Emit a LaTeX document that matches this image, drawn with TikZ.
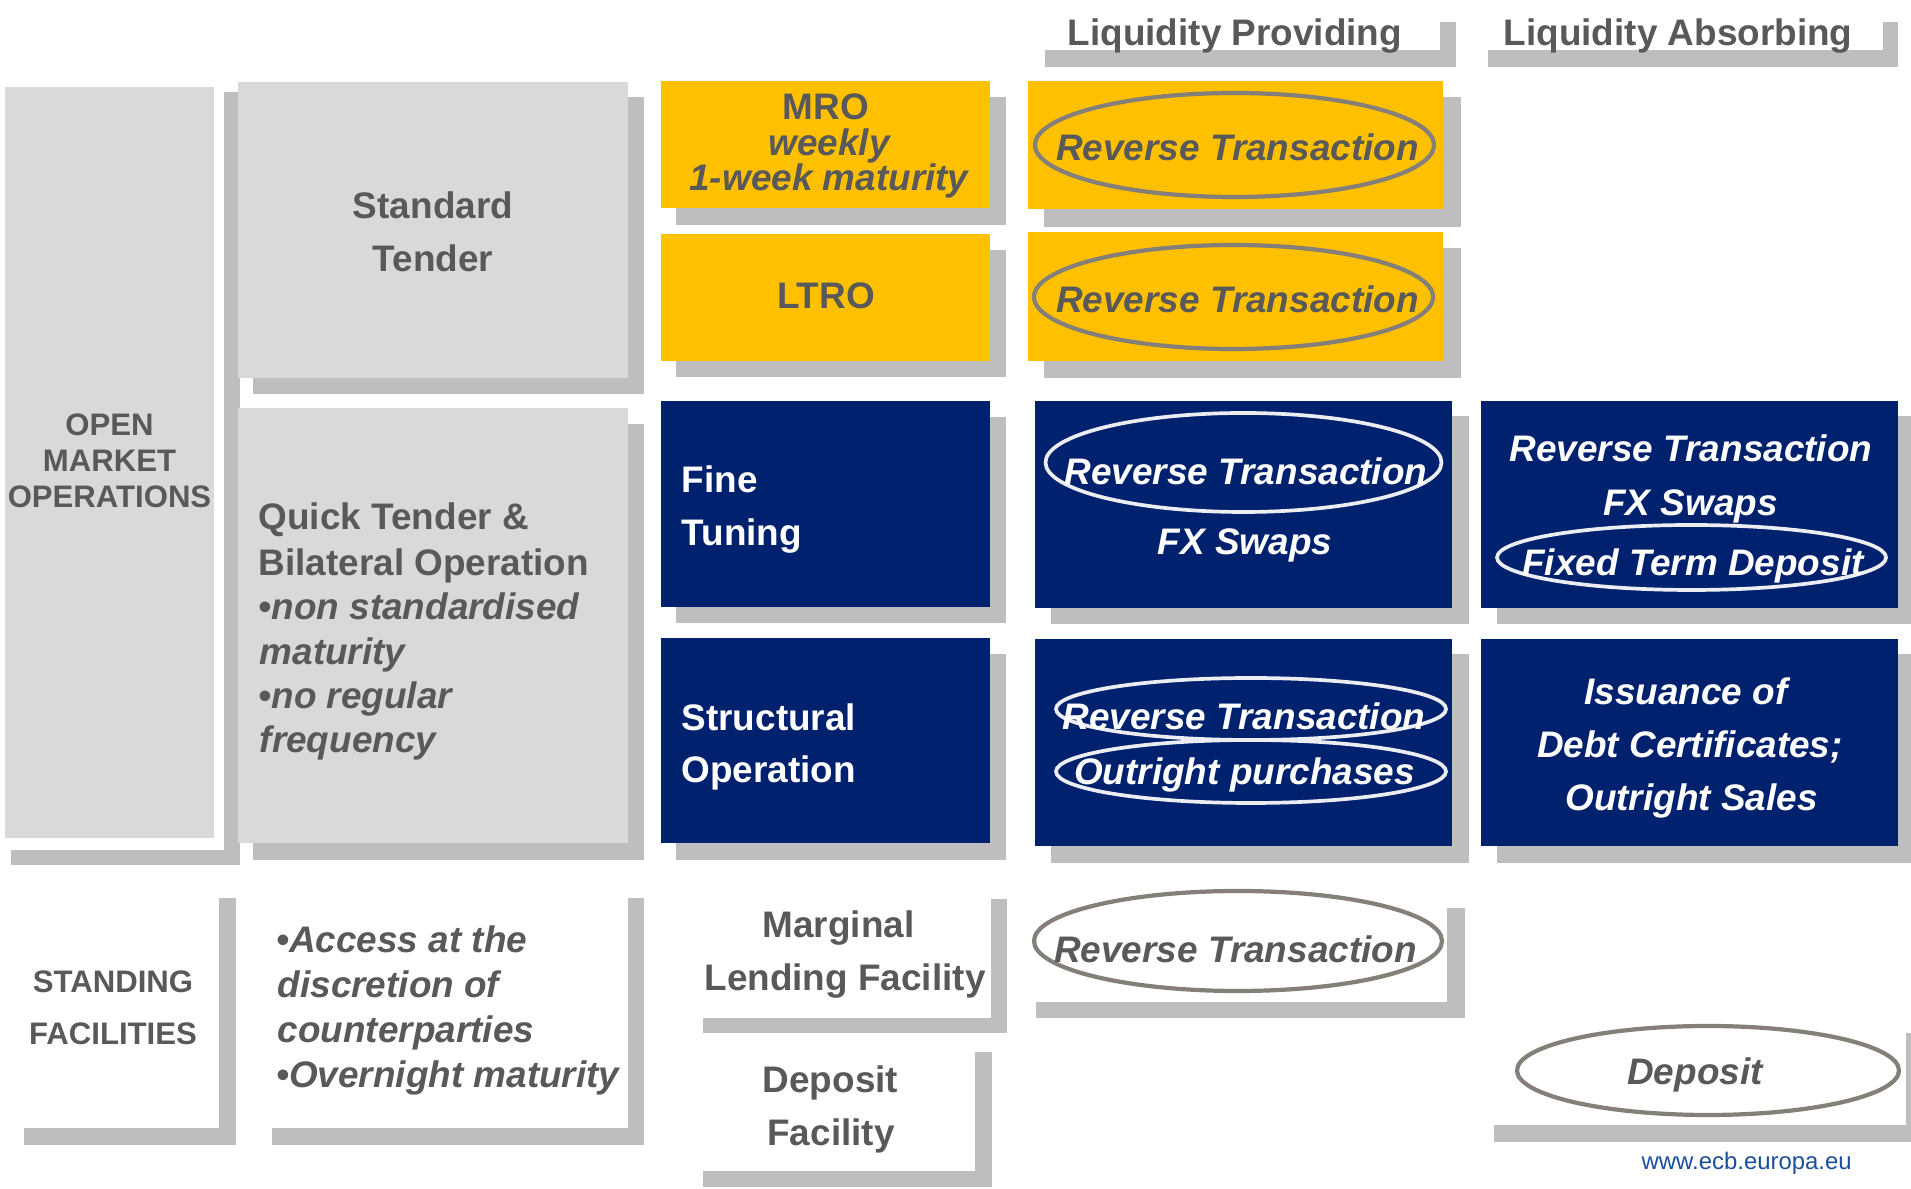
\documentclass[tikz,border=0pt]{standalone}
\usepackage{fontspec}
\setmainfont{Liberation Sans}
\definecolor{boxgray}{HTML}{D9D9D9}
\definecolor{shadowgray}{HTML}{BEBEBE}
\definecolor{ecbyellow}{HTML}{FFC000}
\definecolor{ecbnavy}{HTML}{00226E}
\definecolor{txtgray}{HTML}{595959}
\definecolor{ringgray}{HTML}{848079}
\definecolor{ringwhite}{HTML}{ECEDF3}
\definecolor{urlblue}{HTML}{1B4F9C}
\tikzset{
  shadowfill/.style={fill=shadowgray},
  graybox/.style={fill=boxgray},
  yellowbox/.style={fill=ecbyellow},
  navybox/.style={fill=ecbnavy},
  blank/.style={fill=white},
  txt/.style={inner sep=0pt, yshift=-0.025cm, text=txtgray, font=\fontsize{10.5}{12}\selectfont\bfseries},
  txtit/.style={txt, font=\fontsize{10.5}{12}\selectfont\bfseries\itshape},
  wtxt/.style={txt, text=white},
  wtxtit/.style={txtit, text=white},
  capslbl/.style={txt, font=\fontsize{8.85}{10}\selectfont\bfseries},
  graying/.style={draw=ringgray, line width=1.2pt},
  whitering/.style={draw=ringwhite, line width=1.05pt},
  urltxt/.style={inner sep=0pt, yshift=-0.02cm, text=urlblue, font=\fontsize{6.8}{8}\selectfont}
}
\begin{document}
\begin{tikzpicture}[x=0.01cm, y=-0.01cm]
\useasboundingbox (0,0) rectangle (1911,1189);
\fill[white] (0,0) rectangle (1911,1189);

% ---- column headers ----
\fill[shadowfill] (1045,22) rectangle (1456,67);
\fill[blank] (1029,6) rectangle (1440,50);
\node[txt, anchor=base west] (hdrlp) at (1067,43) {Liquidity Providing};
\fill[shadowfill] (1488,22) rectangle (1898,67);
\fill[blank] (1472,6) rectangle (1883,50);
\node[txt, anchor=base west] (hdrla) at (1503,43) {Liquidity Absorbing};

% ---- open market operations ----
\fill[shadowfill] (11,92) rectangle (240,865);
\fill[blank] (5,87) rectangle (224,850);
\fill[graybox] (5,87) rectangle (214,838);
\node[capslbl, anchor=base] (omo1) at (109.5,433) {OPEN};
\node[capslbl, anchor=base] (omo2) at (109.5,469) {MARKET};
\node[capslbl, anchor=base] (omo3) at (109.5,505) {OPERATIONS};

% standard tender
\fill[shadowfill] (253,97) rectangle (644,394);
\fill[graybox] (238,82) rectangle (628,378);
\node[txt, anchor=base] (std1) at (433,216) {Standard};
\node[txt, anchor=base] (std2) at (433,269) {Tender};

% quick tender
\fill[shadowfill] (253,424) rectangle (644,860);
\fill[graybox] (238,408) rectangle (628,843);
\node[txt, anchor=base west] (qt1) at (258,527) {Quick Tender \&};
\node[txt, anchor=base west] (qt2) at (258,573) {Bilateral Operation};
\node[txtit, anchor=base west] (qt3) at (258,617) {•non standardised};
\node[txtit, anchor=base west] (qt4) at (259,662) {maturity};
\node[txtit, anchor=base west] (qt5) at (258,706) {•no regular};
\node[txtit, anchor=base west] (qt6) at (259,750) {frequency};

% MRO / LTRO
\fill[shadowfill] (676,97) rectangle (1006,225);
\fill[yellowbox] (661,81) rectangle (990,208);
\node[txt, anchor=base] (mro1) at (826,117) {MRO};
\node[txtit, anchor=base] (mro2) at (829,153) {weekly};
\node[txtit, anchor=base] (mro3) at (829,188) {1-week maturity};

\fill[shadowfill] (676,250) rectangle (1006,377);
\fill[yellowbox] (661,234) rectangle (990,361);
\node[txt, anchor=base] (ltro) at (826,306) {LTRO};

% fine tuning / structural
\fill[shadowfill] (676,417) rectangle (1006,623);
\fill[navybox] (661,401) rectangle (990,607);
\node[wtxt, anchor=base west] (ft1) at (681,490) {Fine};
\node[wtxt, anchor=base west] (ft2) at (681,543) {Tuning};

\fill[shadowfill] (676,654) rectangle (1006,860);
\fill[navybox] (661,638) rectangle (990,843);
\node[wtxt, anchor=base west] (so1) at (681,728) {Structural};
\node[wtxt, anchor=base west] (so2) at (681,780) {Operation};

% ---- liquidity providing column ----
\fill[shadowfill] (1044,97) rectangle (1461,227);
\fill[yellowbox] (1028,81) rectangle (1443,209);
\draw[graying] (1234.5,145) ellipse [x radius=199.5, y radius=52];
\node[txtit, anchor=base] (lp1) at (1237.5,158) {Reverse Transaction};

\fill[shadowfill] (1044,248) rectangle (1461,378);
\fill[yellowbox] (1028,232) rectangle (1443,361);
\draw[graying] (1233.5,297) ellipse [x radius=199.5, y radius=52];
\node[txtit, anchor=base] (lp2) at (1237.5,310) {Reverse Transaction};

\fill[shadowfill] (1051,416) rectangle (1469,624);
\fill[navybox] (1035,401) rectangle (1452,608);
\draw[whitering] (1243.5,462.5) ellipse [x radius=198, y radius=49.5];
\node[wtxtit, anchor=base] (lp3) at (1246,482) {Reverse Transaction};
\node[wtxtit, anchor=base] (lp4) at (1245,552) {FX Swaps};

\fill[shadowfill] (1051,654) rectangle (1469,863);
\fill[navybox] (1035,639) rectangle (1452,846);
\draw[whitering] (1251,709) ellipse [x radius=195, y radius=31];
\draw[whitering] (1251,771.5) ellipse [x radius=195, y radius=31.5];
\node[wtxtit, anchor=base] (lp5) at (1244,727) {Reverse Transaction};
\node[wtxtit, anchor=base] (lp6) at (1244.5,782) {Outright purchases};

% ---- liquidity absorbing column ----
\fill[shadowfill] (1497,416) rectangle (1911,624);
\fill[navybox] (1481,401) rectangle (1898,608);
\node[wtxtit, anchor=base] (la1) at (1691,459) {Reverse Transaction};
\node[wtxtit, anchor=base] (la2) at (1690.5,513) {FX Swaps};
\draw[whitering] (1691.5,557.5) ellipse [x radius=194.5, y radius=32.5];
\node[wtxtit, anchor=base] (la3) at (1693,573) {Fixed Term Deposit};

\fill[shadowfill] (1497,654) rectangle (1911,863);
\fill[navybox] (1481,639) rectangle (1898,846);
\node[wtxtit, anchor=base] (la4) at (1686,702) {Issuance of};
\node[wtxtit, anchor=base] (la5) at (1690,755) {Debt Certificates;};
\node[wtxtit, anchor=base] (la6) at (1691.5,808) {Outright Sales};

% ---- standing facilities ----
\fill[shadowfill] (24,898) rectangle (236,1145);
\fill[blank] (8,882) rectangle (219,1128);
\node[capslbl, anchor=base] (sf1) at (113,990) {STANDING};
\node[capslbl, anchor=base] (sf2) at (113,1042) {FACILITIES};

\fill[shadowfill] (272,898) rectangle (644,1145);
\fill[blank] (256,882) rectangle (628,1128);
\node[txtit, anchor=base west] (acc1) at (275.5,950) {•Access at the};
\node[txtit, anchor=base west] (acc2) at (277,995) {discretion of};
\node[txtit, anchor=base west] (acc3) at (277,1040) {counterparties};
\node[txtit, anchor=base west] (acc4) at (275.5,1085) {•Overnight maturity};

\fill[shadowfill] (703,899) rectangle (1007,1033);
\fill[blank] (687,883) rectangle (991,1018);
\node[txt, anchor=base] (mlf1) at (838.5,935) {Marginal};
\node[txt, anchor=base] (mlf2) at (845,988) {Lending Facility};

\fill[shadowfill] (703,1052) rectangle (992,1187);
\fill[blank] (687,1036) rectangle (975,1171);
\node[txt, anchor=base] (df1) at (830.5,1090) {Deposit};
\node[txt, anchor=base] (df2) at (831,1143) {Facility};

\fill[shadowfill] (1036,908) rectangle (1465,1018);
\fill[blank] (1020,892) rectangle (1447,1002);
\draw[graying] (1238,941) ellipse [x radius=204, y radius=50];
\node[txtit, anchor=base] (lp7) at (1235.5,960) {Reverse Transaction};

\fill[shadowfill] (1494,1033) rectangle (1911,1142);
\fill[blank] (1478,1017) rectangle (1906,1125);
\draw[graying] (1708,1070.5) ellipse [x radius=191, y radius=44.5];
\node[txtit, anchor=base] (la7) at (1695,1082) {Deposit};

\node[urltxt, anchor=base west] (url) at (1641,1168) {www.ecb.europa.eu};
\end{tikzpicture}
\end{document}
